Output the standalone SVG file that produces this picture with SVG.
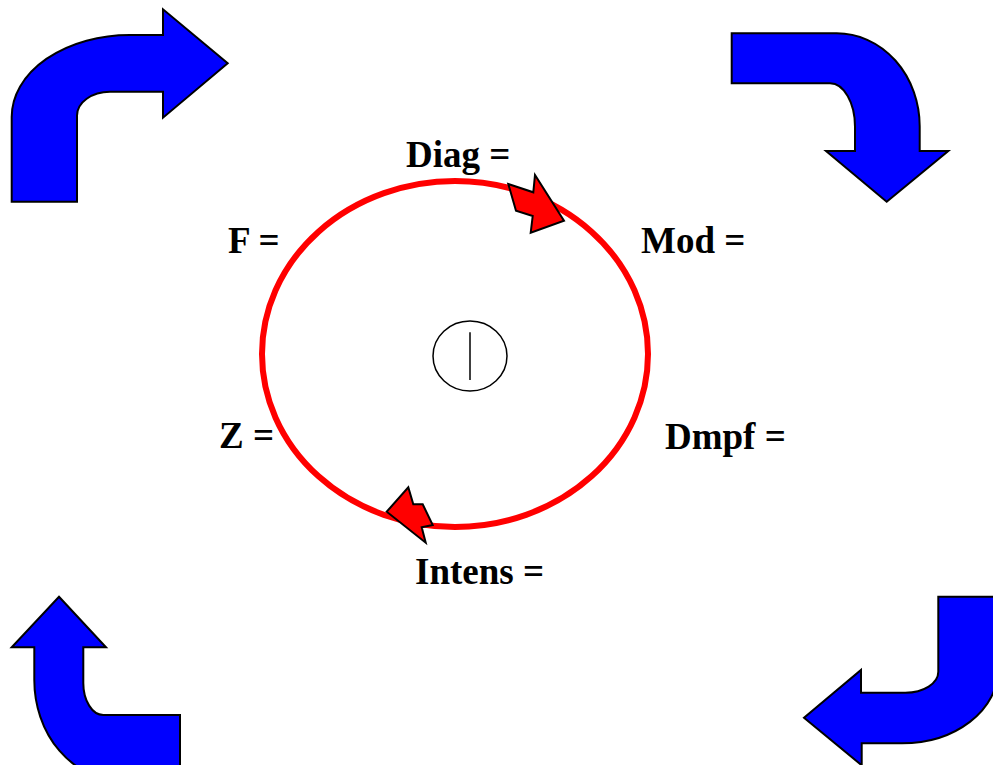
<svg xmlns="http://www.w3.org/2000/svg" width="993" height="765" viewBox="0 0 993 765">
<style>
.blue{fill:#0000ff;stroke:#000;stroke-width:2;stroke-linejoin:miter}
.redh{fill:#ff0000;stroke:#000;stroke-width:2;stroke-linejoin:miter}
.lbl{font-family:"Liberation Serif","Times New Roman",serif;font-weight:bold;font-size:37px;fill:#000}
</style>
<rect width="993" height="765" fill="#fff"/>
<g id="arrow-top-left">
<path class="blue" d="M11.7,201.7 L11.7,117 A118,82 0 0 1 130,35 L163,35 L163,9.3 L227.7,63.3 L163,117.7 L163,91.7 L110,91.7 A33,24 0 0 0 77,115.7 L77,201.7 Z"/>
</g>
<g id="arrow-top-right">
<path class="blue" d="M731.7,33.3 L836.7,33.3 A83,93 0 0 1 919.7,126.3 L919.7,151 L948.3,151 L886.7,201.7 L826,151 L855,151 L855,126.7 A25,43.4 0 0 0 830,83.3 L731.7,83.3 Z"/>
</g>
<g id="arrow-bottom-left">
<path class="blue" d="M59,596.7 L106,647.3 L83.3,647.3 L83.3,683 A20,32 0 0 0 103.3,715 L180,715 L180,780 L120,780 A85.7,100 0 0 1 34.3,680 L34.3,647.3 L11.7,647.3 Z"/>
</g>
<g id="arrow-bottom-right">
<path class="blue" d="M938.3,596.7 L998,596.7 L998,670 A96,73.3 0 0 1 902,743.3 L861.7,743.3 L861.7,765.3 L804,717.7 L861,670 L861,692.7 L905.3,692.7 A33,21 0 0 0 938.3,671.7 Z"/>
</g>
<g id="cycle">
<ellipse cx="455" cy="354" rx="193" ry="173" fill="none" stroke="#ff0000" stroke-width="6"/>
</g>
<g id="connectors">
<polygon class="redh" points="508.3,184 533.3,192.3 535,175 564,220.7 530.7,232.7 532.7,216 516,210.7"/>
<polygon class="redh" points="386.7,511.7 408.3,487.3 413.3,504.3 422.7,504.3 432.7,525 421.7,527.3 425.7,542.7"/>
</g>
<g id="center">
<ellipse cx="470" cy="356" rx="37" ry="35" fill="#fff" stroke="#000" stroke-width="1.5"/>
<line x1="470" y1="332.3" x2="470" y2="380" stroke="#000" stroke-width="1.5"/>
</g>
<g id="label-diag"><text class="lbl" x="406" y="167">Diag =</text></g>
<g id="label-f"><text class="lbl" x="228" y="253">F =</text></g>
<g id="label-mod"><text class="lbl" x="641" y="253">Mod =</text></g>
<g id="label-z"><text class="lbl" x="219" y="448">Z =</text></g>
<g id="label-dmpf"><text class="lbl" x="665" y="449">Dmpf =</text></g>
<g id="label-intens"><text class="lbl" x="415" y="584">Intens =</text></g>
</svg>
